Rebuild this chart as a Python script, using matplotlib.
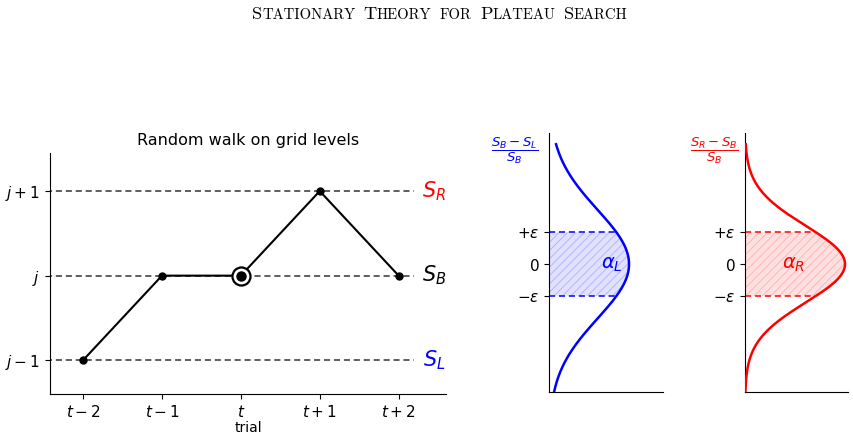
import numpy as np
import matplotlib
matplotlib.use("Agg")
import matplotlib.pyplot as plt
from matplotlib.offsetbox import TextArea, HPacker, AnchoredOffsetbox

# --data--
trials = [-2, -1, 0, 1, 2]
trial_labels = ['$t-2$', '$t-1$', '$t$', '$t+1$', '$t+2$']
walk = [-1, 0, 0, 1, 0]
levels = [-1, 0, 1]
level_labels = ['$j-1$', '$j$', '$j+1$']
state_names = ['$S_L$', '$S_B$', '$S_R$']
state_colors = ['blue', 'black', 'red']
current_trial = 0

eps = 1.0
sigma_L = 1.7
sigma_R = 1.2
y_lo, y_hi = -4.0, 3.75

title_words = ['Stationary', 'Theory', 'for', 'Plateau', 'Search']

plt.rcParams['hatch.linewidth'] = 0.6

fig = plt.figure(figsize=(8.54, 4.4), dpi=100)

# --small caps title--
words = []
for w in title_words:
    runs = []
    if w[0].isupper():
        runs.append(TextArea(w[0], textprops=dict(family='cmr10', size=13.2)))
        rest = w[1:]
    else:
        rest = w
    runs.append(TextArea(rest.upper(), textprops=dict(family='cmr10', size=10.6)))
    words.append(HPacker(children=runs, sep=0, pad=0, align='baseline'))
title_box = HPacker(children=words, sep=6, pad=0, align='baseline')
anch = AnchoredOffsetbox(loc='upper center', child=title_box, pad=0, borderpad=0,
                         bbox_to_anchor=(0.515, 0.985), bbox_transform=fig.transFigure,
                         frameon=False)
fig.add_artist(anch)

# --random walk panel--
ax = fig.add_axes([0.0585, 0.1045, 0.4637, 0.5477])
for lv in levels:
    ax.plot([-2.6, 2.2], [lv, lv], ls=(0, (4, 2.5)), color='#333333', lw=1.1, zorder=1)
ax.plot(trials, walk, color='black', lw=1.5, zorder=2)
ax.plot(trials, walk, 'o', color='black', ms=5, zorder=3)
ax.plot([current_trial], [walk[trials.index(current_trial)]], 'o', ms=13,
        mfc='white', mec='black', mew=1.6, zorder=3)
ax.plot([current_trial], [walk[trials.index(current_trial)]], 'o', ms=6.5,
        color='black', zorder=4)
for lv, nm, c in zip(levels, state_names, state_colors):
    ax.text(2.45, lv, nm, color=c, fontsize=15, ha='center', va='center')
ax.set_xlim(-2.42, 2.6)
ax.set_ylim(-1.4, 1.45)
ax.set_xticks(trials)
ax.set_xticklabels(trial_labels, fontsize=11)
ax.set_yticks(levels)
ax.set_yticklabels(level_labels, fontsize=11)
ax.set_xlabel('trial', fontsize=10, labelpad=1)
ax.set_title('Random walk on grid levels', fontsize=11.5, pad=6)
for s in ['top', 'right']:
    ax.spines[s].set_visible(False)

# --ratio distributions--
def ratio_panel(rect, sigma, color, fill_rgb, xpad, label, alpha_label, alpha_x):
    a = fig.add_axes(rect)
    y = np.linspace(y_lo, y_hi, 400)
    d = np.exp(-y**2 / (2 * sigma**2))
    a.plot(d, y, color=color, lw=1.8, zorder=3)
    m = np.abs(y) <= eps
    a.fill_betweenx(y, 0, d, where=m, facecolor=fill_rgb + (0.12,),
                    edgecolor=fill_rgb + (0.22,), hatch='////', linewidth=0, zorder=1)
    for e in [-eps, eps]:
        xe = np.exp(-e**2 / (2 * sigma**2))
        a.plot([0, xe], [e, e], ls=(0, (4, 2.5)), color=color, lw=1.1, zorder=2)
    a.text(alpha_x, 0, alpha_label, color=color, fontsize=14, ha='center', va='center')
    a.text(-0.3, 0.93, label, color=color, fontsize=9.5, ha='center', va='center',
           transform=a.transAxes)
    a.set_xlim(0, xpad)
    a.set_ylim(y_lo, 4.1)
    a.set_yticks([-eps, 0, eps])
    a.set_yticklabels([r'$-\varepsilon$', '$0$', r'$+\varepsilon$'], fontsize=11)
    a.set_xticks([])
    for s in ['top', 'right']:
        a.spines[s].set_visible(False)
    return a

ratio_panel([0.6429, 0.109, 0.1335, 0.5886], sigma_L, 'blue', (0.0, 0.0, 1.0), 1.425,
            r'$\dfrac{S_B - S_L}{S_B}$', r'$\alpha_L$', 0.79)
ratio_panel([0.8724, 0.109, 0.1206, 0.5886], sigma_R, 'red', (1.0, 0.0, 0.0), 1.03,
            r'$\dfrac{S_R - S_B}{S_B}$', r'$\alpha_R$', 0.48)

fig.savefig('out.png', dpi=100)
